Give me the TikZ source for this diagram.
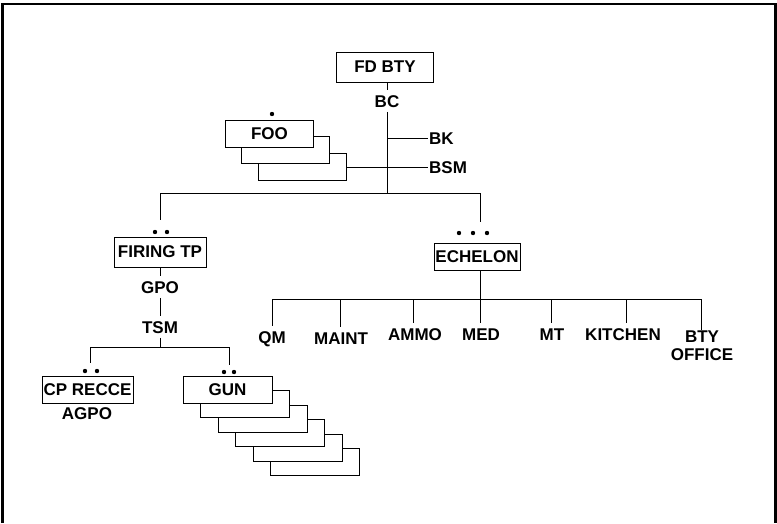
\documentclass[tikz,border=0pt]{standalone}
\usepackage{fontspec}
\setmainfont{Liberation Sans}
\begin{document}
\begin{tikzpicture}[x=1pt,y=-1pt,
  txt/.style={font=\fontsize{17}{20}\selectfont\bfseries},
  unitbox/.style={txt,draw,line width=1pt,fill=white,minimum width=#1,minimum height=27pt,inner sep=0pt},
  lbl/.style={txt,inner xsep=1pt,inner ysep=4.5pt,text height=12.5pt,text depth=0pt},
  conn/.style={line width=1pt},
  dot/.style={fill=black}]
\useasboundingbox (0,0) rectangle (777,523);
% frame
\draw[line width=2.5pt] (2.5,523) -- (2.5,4) -- (775.5,4) -- (775.5,523);

% FD BTY
\node[unitbox=97pt,minimum height=30pt] (fdbty) at (385,67) {FD BTY};
\node[lbl] (bc) at (387,101) {BC};
\coordinate (bctop) at (387,82);
\coordinate (topbar) at (387,193);
\draw[conn] (bctop) -- (bc.north);
\draw[conn] (bc.south) -- (topbar);

% FOO stack
\node[unitbox=88pt] (foo3) at (302.5,167) {};
\node[unitbox=88pt] (foo2) at (285.5,150) {};
\node[unitbox=88pt] (foo1) at (269.5,133.5) {FOO};
\fill[dot] (272,114) circle (2.2);

% BK, BSM
\coordinate (bkj) at (387,138);
\node[lbl,anchor=west] (bk) at (428,138) {BK};
\node[lbl,anchor=west] (bsm) at (428,167) {BSM};
\draw[conn] (bkj) -- (bk.west);
\draw[conn] (foo3.east) -- (bsm.west);

% main bar
\coordinate (barL) at (160,193);
\coordinate (barR) at (480,193);
\draw[conn] (barL) -- (barR);

% FIRING TP
\coordinate (ftpdrop) at (160,220);
\draw[conn] (barL) -- (ftpdrop);
\fill[dot] (155,232) circle (2.2) (167,232) circle (2.2);
\node[unitbox=92pt,minimum height=30pt] (ftp) at (160,252) {FIRING TP};
\node[lbl] (gpo) at (160,287) {GPO};
\node[lbl] (tsm) at (160,327) {TSM};
\coordinate (tsmbar) at (160,347);
\draw[conn] (ftp.south) -- (gpo.north);
\draw[conn] (gpo.south) -- (tsm.north);
\draw[conn] (tsm.south) -- (tsmbar);
\coordinate (tbL) at (90,347);
\coordinate (tbR) at (229,347);
\draw[conn] (tbL) -- (tbR);

% CP RECCE
\coordinate (cpdrop) at (90,363);
\draw[conn] (tbL) -- (cpdrop);
\fill[dot] (85,371) circle (2.2) (97,371) circle (2.2);
\node[unitbox=91pt] (cp) at (87.5,389.5) {CP RECCE};
\node[txt,inner sep=0pt] (agpo) at (87,414) {AGPO};

% GUN stack
\coordinate (gundrop) at (229,365);
\draw[conn] (tbR) -- (gundrop);
\fill[dot] (224,372) circle (2.2) (234,372) circle (2.2);
\node[unitbox=89pt] (gun6) at (315,462) {};
\node[unitbox=89pt] (gun5) at (297.5,447.5) {};
\node[unitbox=89pt] (gun4) at (280,433) {};
\node[unitbox=89pt] (gun3) at (262.5,418.5) {};
\node[unitbox=89pt] (gun2) at (245,404) {};
\node[unitbox=89pt] (gun1) at (227.5,389.5) {GUN};

% ECHELON
\coordinate (echdrop) at (480,222);
\draw[conn] (barR) -- (echdrop);
\fill[dot] (459,233) circle (2.2) (473,233) circle (2.2) (487,233) circle (2.2);
\node[unitbox=86pt] (ech) at (477,256.5) {ECHELON};
\coordinate (echbot) at (480,270);
\coordinate (ebM) at (480,299);
\draw[conn] (echbot) -- (ebM);
\coordinate (ebL) at (272,299);
\coordinate (ebR) at (701,299);
\draw[conn] (ebL) -- (ebR);
\coordinate (eb2) at (340,299);
\coordinate (eb3) at (413,299);
\coordinate (eb5) at (551,299);
\coordinate (eb6) at (626,299);

\node[lbl] (qm) at (272,337) {QM};
\node[lbl] (maint) at (341,338) {MAINT};
\node[lbl] (ammo) at (415,334) {AMMO};
\node[lbl] (med) at (481,334) {MED};
\node[lbl] (mt) at (552,334) {MT};
\node[lbl] (kit) at (623,334) {KITCHEN};
\node[lbl,align=center,text height=,text depth=,inner ysep=1pt] (btyo) at (702,346) {BTY\\[-2pt]OFFICE};

\draw[conn] (ebL) -- (ebL |- qm.north);
\draw[conn] (eb2) -- (eb2 |- maint.north);
\draw[conn] (eb3) -- (eb3 |- ammo.north);
\draw[conn] (ebM) -- (ebM |- med.north);
\draw[conn] (eb5) -- (eb5 |- mt.north);
\draw[conn] (eb6) -- (eb6 |- kit.north);
\draw[conn] (ebR) -- (ebR |- btyo.north);
\end{tikzpicture}
\end{document}
